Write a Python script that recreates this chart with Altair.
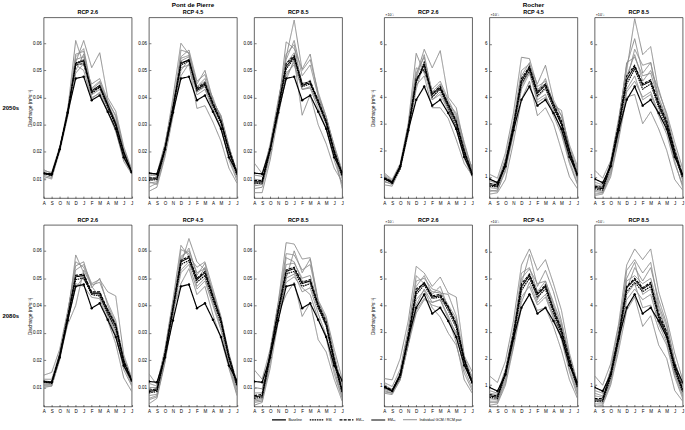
import json
import altair as alt
import pandas as pd

# ---------------- data (discharge values in 10^-3 m3/s) ----------------
MONTHS = ["A", "S", "O", "N", "D", "J", "F", "M", "A", "M", "J", "J"]
RCP_LABELS = ["RCP 2.6", "RCP 4.5", "RCP 8.5"]
PERIODS = ["2050s", "2080s"]
RIVERS = ["Pont de Pierre", "Rocher"]

BASELINE_PDP = [12.2, 11.9, 21.0, 34.5, 47.0, 47.7, 39.0, 40.8, 34.8, 28.5, 18.0, 12.5]
BASELINE_ROC = [0.92, 0.78, 1.4, 2.75, 3.9, 4.4, 3.68, 3.9, 3.4, 2.8, 1.75, 1.1]

# Pont de Pierre, 2050s
PDP_2050_26_EMS = [12.0, 11.3, 21.0, 34.0, 52.8, 53.8, 41.5, 43.8, 36.5, 29.5, 19.5, 12.2]
PDP_2050_26_EM10 = [12.1, 11.4, 21.2, 35.0, 52.0, 52.5, 42.0, 44.0, 37.0, 30.0, 19.8, 12.4]
PDP_2050_26_EMALL = [12.0, 11.5, 21.0, 34.5, 52.5, 53.5, 42.5, 44.5, 37.5, 30.5, 20.0, 12.5]
PDP_2050_26_GCM = [
    [13.5, 12.0, 21.0, 35.5, 61.0, 52.0, 45.0, 47.0, 39.0, 33.0, 20.5, 13.0],
    [11.0, 10.0, 21.5, 36.0, 53.0, 61.0, 51.0, 56.5, 40.0, 35.0, 22.0, 13.5],
    [10.0, 11.5, 20.5, 33.5, 55.0, 58.0, 43.0, 45.5, 38.0, 31.5, 20.5, 12.5],
    [12.5, 11.0, 21.0, 34.0, 50.0, 56.0, 41.0, 43.0, 36.0, 30.0, 18.5, 12.0],
    [13.0, 12.5, 22.0, 35.0, 54.0, 55.0, 43.5, 46.0, 38.5, 33.5, 21.0, 13.0],
    [11.5, 10.5, 20.0, 33.0, 49.0, 52.5, 40.0, 41.5, 35.0, 27.5, 17.5, 12.0],
    [12.0, 12.0, 21.5, 34.5, 56.0, 57.0, 42.0, 44.0, 37.0, 31.0, 19.0, 12.5],
    [12.5, 11.5, 21.0, 35.0, 52.0, 50.0, 39.5, 42.0, 34.5, 28.0, 16.5, 11.8],
]
PDP_2050_45_EMS = [9.5, 9.8, 20.5, 35.5, 52.0, 53.5, 42.5, 44.5, 37.0, 30.5, 20.0, 11.5]
PDP_2050_45_EM10 = [10.5, 10.3, 21.5, 36.5, 53.0, 53.5, 43.5, 45.5, 38.0, 31.5, 21.0, 12.5]
PDP_2050_45_EMALL = [10.0, 10.0, 21.0, 36.0, 52.5, 54.0, 43.0, 45.0, 37.5, 31.0, 20.5, 12.0]
PDP_2050_45_GCM = [
    [12.5, 11.5, 22.0, 40.0, 60.0, 56.0, 44.0, 47.0, 38.0, 32.0, 21.0, 13.0],
    [9.0, 8.0, 19.0, 34.0, 57.5, 56.5, 45.0, 50.0, 39.0, 33.0, 22.0, 12.5],
    [5.5, 7.0, 18.0, 33.0, 50.0, 54.0, 42.0, 44.0, 36.0, 29.0, 18.0, 10.5],
    [11.0, 12.0, 23.0, 37.0, 53.5, 55.0, 42.5, 45.5, 38.5, 33.5, 22.0, 12.0],
    [8.5, 9.0, 20.0, 36.0, 48.0, 52.5, 36.0, 37.0, 31.0, 24.0, 14.0, 8.5],
    [10.5, 10.5, 21.0, 35.0, 54.5, 55.5, 44.0, 46.0, 40.0, 31.5, 19.5, 11.5],
    [7.0, 8.5, 20.5, 36.5, 51.0, 52.0, 41.0, 43.0, 35.5, 29.0, 17.0, 9.5],
    [12.0, 11.0, 22.5, 38.0, 55.0, 57.5, 46.0, 48.5, 39.0, 32.5, 21.5, 12.5],
]
PDP_2050_85_EMS = [8.5, 8.5, 20.5, 35.0, 50.5, 54.5, 44.0, 45.0, 38.0, 30.5, 19.5, 11.0]
PDP_2050_85_EM10 = [9.5, 9.5, 21.5, 36.5, 52.5, 55.5, 45.0, 46.0, 39.0, 31.5, 20.5, 12.0]
PDP_2050_85_EMALL = [9.0, 9.0, 21.0, 36.0, 51.5, 55.0, 44.5, 45.5, 38.5, 31.0, 20.0, 11.5]
PDP_2050_85_GCM = [
    [16.0, 12.0, 22.0, 38.0, 55.0, 68.5, 50.0, 54.0, 42.0, 33.0, 22.0, 12.5],
    [9.0, 8.0, 20.0, 36.0, 60.5, 58.0, 50.5, 56.0, 41.0, 33.0, 21.0, 11.0],
    [5.0, 5.0, 17.0, 33.0, 48.0, 53.0, 43.0, 44.0, 37.5, 30.0, 20.0, 6.5],
    [7.5, 8.0, 21.0, 37.0, 56.0, 59.5, 44.0, 46.5, 38.0, 31.0, 19.0, 10.0],
    [10.0, 9.5, 22.0, 35.0, 46.5, 54.0, 33.5, 41.0, 30.0, 23.0, 14.0, 9.0],
    [8.0, 9.0, 21.0, 37.5, 52.5, 56.5, 45.5, 45.0, 39.5, 32.0, 21.0, 12.0],
    [6.5, 7.0, 19.0, 34.0, 49.0, 52.0, 43.0, 43.5, 36.0, 28.5, 17.0, 8.0],
    [11.5, 11.0, 23.0, 39.0, 54.0, 61.0, 48.0, 52.0, 40.5, 32.5, 22.5, 13.0],
]
# Rocher, 2050s
ROC_2050_26_EMS = [0.93, 0.78, 1.3, 2.7, 4.55, 5.3, 4.0, 4.3, 3.6, 2.95, 1.85, 1.05]
ROC_2050_26_EM10 = [0.97, 0.82, 1.4, 2.85, 4.7, 5.05, 4.15, 4.4, 3.75, 3.1, 2.0, 1.12]
ROC_2050_26_EMALL = [0.95, 0.8, 1.35, 2.8, 4.6, 5.2, 4.1, 4.35, 3.7, 3.05, 1.95, 1.1]
ROC_2050_26_GCM = [
    [1.15, 0.9, 1.5, 3.0, 5.65, 4.9, 4.3, 4.6, 3.9, 3.3, 2.1, 1.2],
    [0.95, 0.75, 1.45, 2.9, 4.8, 5.8, 5.1, 5.75, 4.0, 3.6, 2.2, 1.3],
    [0.7, 0.65, 1.3, 2.6, 4.3, 5.35, 3.9, 4.2, 3.6, 2.8, 1.7, 1.0],
    [1.0, 0.85, 1.4, 2.8, 4.9, 5.5, 4.2, 4.5, 3.8, 3.2, 2.0, 1.15],
    [0.85, 0.7, 1.3, 2.7, 4.45, 4.8, 3.6, 3.6, 3.2, 2.4, 1.5, 1.05],
    [1.05, 0.8, 1.35, 2.75, 4.7, 5.6, 4.1, 4.45, 3.7, 3.1, 1.9, 1.1],
    [0.8, 0.75, 1.4, 2.95, 5.1, 5.0, 3.9, 4.1, 3.5, 2.9, 1.8, 1.4],
    [1.1, 0.85, 1.45, 2.85, 4.6, 5.25, 4.0, 4.3, 3.75, 3.4, 2.3, 1.25],
]
ROC_2050_45_EMS = [0.65, 0.62, 1.45, 2.85, 4.5, 5.0, 4.05, 4.35, 3.6, 2.95, 1.9, 1.0]
ROC_2050_45_EM10 = [0.75, 0.7, 1.55, 2.95, 4.7, 5.15, 4.2, 4.5, 3.75, 3.1, 2.0, 1.1]
ROC_2050_45_EMALL = [0.7, 0.65, 1.5, 2.9, 4.6, 5.1, 4.15, 4.45, 3.7, 3.0, 1.95, 1.05]
ROC_2050_45_GCM = [
    [1.1, 0.95, 1.9, 3.4, 5.5, 5.45, 4.4, 4.6, 3.8, 3.3, 2.1, 1.3],
    [0.35, 0.4, 0.9, 2.3, 3.9, 4.6, 3.3, 3.6, 3.0, 2.0, 1.0, 0.55],
    [0.6, 0.55, 1.4, 2.8, 4.55, 5.2, 4.5, 5.2, 3.9, 3.3, 2.2, 1.4],
    [0.85, 0.75, 1.6, 3.0, 4.8, 5.3, 4.0, 4.3, 3.6, 3.0, 1.8, 0.9],
    [0.5, 0.45, 1.3, 2.7, 4.3, 4.9, 3.8, 4.0, 3.5, 2.7, 1.6, 0.75],
    [0.75, 0.7, 1.5, 2.95, 4.65, 5.1, 4.2, 4.7, 3.7, 3.5, 2.0, 1.2],
    [0.45, 0.5, 1.2, 2.6, 4.4, 5.0, 3.9, 4.1, 3.3, 2.6, 1.5, 0.7],
    [0.9, 0.8, 1.7, 3.1, 5.0, 5.25, 4.3, 4.5, 3.8, 3.1, 2.0, 1.0],
]
ROC_2050_85_EMS = [0.55, 0.5, 1.4, 2.8, 4.5, 5.05, 4.3, 4.5, 3.6, 2.9, 1.8, 0.95]
ROC_2050_85_EM10 = [0.65, 0.6, 1.5, 3.0, 4.8, 5.2, 4.5, 4.65, 3.8, 3.1, 2.0, 1.05]
ROC_2050_85_EMALL = [0.6, 0.55, 1.45, 2.9, 4.65, 5.15, 4.45, 4.6, 3.7, 3.0, 1.9, 1.0]
ROC_2050_85_GCM = [
    [1.25, 0.95, 1.6, 3.2, 5.0, 6.95, 5.6, 5.9, 4.2, 3.4, 2.3, 1.3],
    [0.3, 0.35, 1.0, 2.4, 4.0, 4.1, 3.0, 3.45, 2.8, 2.0, 0.9, 0.5],
    [0.5, 0.45, 1.3, 2.8, 4.6, 5.8, 5.2, 5.3, 4.0, 3.2, 2.1, 1.1],
    [0.8, 0.7, 1.5, 3.0, 5.3, 5.5, 4.8, 4.9, 3.9, 3.1, 1.9, 0.9],
    [0.45, 0.4, 1.2, 2.6, 4.3, 4.8, 3.9, 4.1, 3.3, 2.6, 1.5, 0.7],
    [0.65, 0.6, 1.45, 2.95, 4.8, 5.6, 4.6, 5.0, 4.3, 3.3, 2.0, 1.0],
    [0.35, 0.4, 1.1, 2.5, 4.2, 4.6, 4.0, 4.2, 3.4, 2.8, 1.6, 0.6],
    [0.7, 0.65, 1.55, 3.1, 5.2, 6.2, 4.9, 5.3, 3.8, 3.0, 1.9, 0.85],
]
# Pont de Pierre, 2080s
PDP_2080_26_EMS = [12.0, 11.5, 21.0, 35.0, 49.5, 50.0, 44.0, 43.5, 37.0, 31.5, 19.0, 12.2]
PDP_2080_26_EM10 = [12.2, 12.0, 22.0, 36.0, 51.0, 51.5, 45.0, 45.0, 38.5, 33.0, 20.0, 12.8]
PDP_2080_26_EMALL = [12.0, 11.8, 21.5, 35.5, 50.5, 51.0, 44.5, 44.5, 38.0, 32.5, 19.5, 12.5]
PDP_2080_26_GCM = [
    [14.5, 15.5, 24.0, 38.0, 53.0, 55.0, 48.0, 49.5, 45.0, 43.5, 22.0, 13.5],
    [10.0, 10.5, 20.5, 35.0, 58.5, 52.0, 44.0, 45.0, 37.0, 30.0, 17.5, 12.0],
    [11.0, 11.0, 21.0, 33.0, 40.0, 53.0, 47.0, 43.0, 39.0, 33.0, 20.5, 13.0],
    [12.5, 12.0, 22.5, 37.0, 54.5, 56.0, 46.5, 50.0, 40.0, 33.5, 21.0, 12.5],
    [10.5, 10.5, 20.0, 34.0, 48.0, 47.0, 43.0, 42.5, 34.5, 26.0, 13.5, 8.5],
    [11.5, 11.5, 21.5, 36.0, 51.5, 49.5, 45.0, 44.0, 37.5, 31.0, 18.0, 11.0],
    [13.0, 13.0, 22.5, 37.5, 56.0, 54.0, 47.5, 48.5, 41.0, 34.5, 20.0, 12.5],
    [10.8, 11.0, 20.5, 34.5, 46.5, 50.5, 44.5, 44.0, 36.0, 29.0, 16.5, 10.5],
]
PDP_2080_45_EMS = [8.0, 8.5, 21.5, 38.0, 55.0, 56.5, 48.5, 51.0, 42.0, 33.5, 20.5, 10.5]
PDP_2080_45_EM10 = [9.0, 9.5, 22.5, 39.5, 56.5, 58.0, 50.0, 52.5, 43.5, 35.0, 21.5, 11.5]
PDP_2080_45_EMALL = [8.5, 9.0, 22.0, 39.0, 56.0, 57.5, 49.5, 52.0, 43.0, 34.5, 21.0, 11.0]
PDP_2080_45_GCM = [
    [15.0, 11.0, 24.0, 42.0, 62.0, 58.0, 54.0, 56.0, 46.0, 36.0, 22.0, 12.0],
    [4.0, 6.0, 19.0, 36.0, 55.0, 64.5, 56.0, 53.0, 44.0, 35.0, 22.5, 11.5],
    [7.0, 7.5, 20.0, 37.0, 60.5, 59.0, 47.0, 50.0, 41.0, 32.0, 19.0, 9.0],
    [10.0, 10.0, 23.0, 40.0, 53.0, 56.0, 49.0, 54.0, 44.5, 35.5, 21.5, 11.0],
    [6.0, 7.0, 20.5, 38.0, 48.0, 53.5, 44.0, 47.0, 36.5, 28.0, 17.0, 7.0],
    [9.0, 9.5, 22.0, 39.0, 57.0, 61.0, 51.0, 55.5, 43.0, 34.0, 20.0, 10.0],
    [5.5, 6.5, 19.5, 37.5, 52.0, 55.0, 46.0, 49.0, 40.0, 31.0, 18.0, 8.0],
    [11.5, 10.5, 23.5, 41.0, 58.0, 60.0, 52.0, 53.5, 45.0, 35.0, 21.0, 12.0],
]
PDP_2080_85_EMS = [6.0, 6.5, 21.0, 37.0, 51.5, 52.5, 47.0, 48.0, 39.0, 32.5, 19.0, 8.0]
PDP_2080_85_EM10 = [7.0, 7.5, 22.5, 38.5, 53.0, 54.0, 48.5, 49.5, 40.5, 34.0, 20.5, 9.0]
PDP_2080_85_EMALL = [6.5, 7.0, 22.0, 38.0, 52.5, 53.5, 48.0, 49.0, 40.0, 33.0, 20.0, 8.5]
PDP_2080_85_GCM = [
    [16.5, 13.0, 24.0, 41.0, 63.0, 62.5, 57.0, 57.5, 42.0, 36.0, 24.0, 13.0],
    [3.5, 4.5, 17.0, 34.0, 50.0, 60.0, 52.0, 57.0, 41.0, 35.0, 22.0, 10.0],
    [5.0, 5.5, 20.0, 37.0, 44.0, 48.5, 36.0, 41.0, 27.5, 23.0, 13.0, 5.0],
    [8.0, 8.0, 23.0, 39.5, 55.0, 55.5, 50.0, 51.0, 40.5, 33.5, 20.0, 8.5],
    [4.5, 5.0, 19.0, 36.0, 50.0, 51.5, 45.0, 46.5, 37.0, 29.0, 16.5, 6.5],
    [7.0, 6.5, 21.5, 38.0, 57.5, 56.0, 49.0, 48.5, 39.5, 32.5, 18.5, 7.5],
    [5.5, 6.0, 20.5, 37.5, 48.5, 50.5, 46.5, 44.0, 35.0, 28.0, 15.0, 6.0],
    [10.0, 9.5, 23.5, 40.5, 59.0, 58.5, 53.0, 55.0, 41.5, 34.5, 21.5, 10.5],
]
# Rocher, 2080s
ROC_2080_26_EMS = [0.93, 0.78, 1.3, 2.7, 4.4, 4.75, 4.25, 4.3, 3.8, 3.15, 1.85, 1.05]
ROC_2080_26_EM10 = [0.97, 0.82, 1.4, 2.85, 4.6, 4.8, 4.35, 4.4, 3.95, 3.3, 2.0, 1.12]
ROC_2080_26_EMALL = [0.95, 0.8, 1.35, 2.75, 4.5, 4.85, 4.3, 4.35, 3.9, 3.25, 1.95, 1.1]
ROC_2080_26_GCM = [
    [1.25, 1.2, 2.0, 3.4, 5.45, 5.2, 4.7, 5.05, 4.45, 4.3, 2.1, 1.5],
    [0.7, 0.65, 1.2, 2.5, 4.0, 4.6, 4.1, 4.2, 3.5, 2.6, 1.2, 0.7],
    [0.9, 0.8, 1.5, 3.0, 5.1, 4.8, 4.5, 4.45, 4.4, 3.6, 2.05, 1.3],
    [1.0, 0.85, 1.35, 2.6, 3.8, 4.25, 4.0, 3.9, 3.4, 3.0, 1.9, 1.05],
    [0.8, 0.7, 1.3, 2.7, 4.7, 5.1, 4.4, 4.7, 3.9, 3.4, 2.0, 1.2],
    [0.85, 0.75, 1.25, 2.55, 4.2, 4.55, 3.9, 3.55, 2.95, 2.5, 1.45, 0.8],
    [1.1, 0.95, 1.6, 3.1, 4.9, 5.0, 4.6, 4.5, 4.0, 3.5, 1.8, 1.2],
    [0.75, 0.7, 1.2, 2.5, 3.7, 4.2, 4.1, 4.2, 3.6, 2.9, 1.6, 0.9],
]
ROC_2080_45_EMS = [0.55, 0.5, 1.4, 2.75, 4.55, 5.0, 4.3, 4.6, 3.7, 2.9, 1.8, 0.9]
ROC_2080_45_EM10 = [0.65, 0.6, 1.5, 2.95, 4.8, 5.15, 4.45, 4.75, 3.85, 3.1, 2.0, 1.0]
ROC_2080_45_EMALL = [0.6, 0.55, 1.45, 2.85, 4.7, 5.1, 4.4, 4.7, 3.8, 3.0, 1.9, 0.95]
ROC_2080_45_GCM = [
    [1.35, 1.1, 1.9, 3.4, 5.5, 6.1, 5.3, 5.7, 4.8, 3.8, 2.2, 1.1],
    [0.25, 0.3, 1.0, 2.4, 3.9, 4.4, 3.8, 3.9, 3.2, 2.3, 1.2, 0.5],
    [0.5, 0.45, 1.3, 2.7, 5.2, 5.4, 4.5, 4.9, 4.0, 3.1, 1.9, 0.9],
    [0.8, 0.7, 1.6, 3.0, 4.8, 5.9, 4.7, 5.3, 4.5, 3.4, 2.0, 1.0],
    [0.4, 0.4, 1.2, 2.6, 4.3, 4.7, 4.0, 4.3, 3.5, 2.7, 1.5, 0.6],
    [0.65, 0.6, 1.5, 2.9, 4.6, 5.2, 4.2, 4.8, 3.9, 3.2, 1.8, 0.8],
    [0.35, 0.35, 1.1, 2.5, 4.1, 4.85, 4.1, 4.4, 3.6, 2.8, 1.6, 0.7],
    [0.7, 0.65, 1.55, 3.1, 5.0, 5.35, 4.8, 4.9, 4.1, 3.3, 2.1, 1.05],
]
ROC_2080_85_EMS = [0.4, 0.4, 1.3, 2.7, 4.5, 4.85, 4.5, 4.7, 3.5, 2.8, 1.55, 0.75]
ROC_2080_85_EM10 = [0.5, 0.5, 1.45, 2.9, 4.7, 5.0, 4.65, 4.85, 3.7, 3.0, 1.7, 0.85]
ROC_2080_85_EMALL = [0.45, 0.45, 1.4, 2.8, 4.65, 4.95, 4.6, 4.8, 3.6, 2.9, 1.65, 0.8]
ROC_2080_85_GCM = [
    [1.35, 1.0, 1.8, 3.3, 5.5, 6.1, 5.7, 6.1, 4.5, 3.5, 2.2, 1.2],
    [0.2, 0.25, 1.0, 2.3, 3.8, 4.3, 3.2, 3.6, 2.5, 2.0, 0.8, 0.4],
    [0.5, 0.4, 1.3, 2.8, 5.3, 5.7, 5.2, 5.6, 4.0, 3.2, 1.9, 0.9],
    [0.8, 0.7, 1.5, 3.0, 4.9, 5.1, 4.8, 5.0, 3.9, 3.0, 1.8, 0.85],
    [0.3, 0.3, 1.1, 2.5, 4.2, 4.6, 4.2, 4.4, 3.3, 2.6, 1.4, 0.6],
    [0.6, 0.55, 1.45, 2.9, 4.6, 5.4, 4.9, 5.4, 4.2, 3.3, 1.9, 1.0],
    [0.4, 0.35, 1.2, 2.6, 4.4, 4.8, 3.9, 4.0, 3.1, 2.5, 1.3, 0.5],
    [0.7, 0.6, 1.6, 3.2, 5.0, 5.6, 4.4, 4.6, 3.5, 2.8, 1.5, 0.7],
]

PANELS = [
    [
        (PDP_2050_26_EMS, PDP_2050_26_EM10, PDP_2050_26_EMALL, PDP_2050_26_GCM),
        (PDP_2050_45_EMS, PDP_2050_45_EM10, PDP_2050_45_EMALL, PDP_2050_45_GCM),
        (PDP_2050_85_EMS, PDP_2050_85_EM10, PDP_2050_85_EMALL, PDP_2050_85_GCM),
        (ROC_2050_26_EMS, ROC_2050_26_EM10, ROC_2050_26_EMALL, ROC_2050_26_GCM),
        (ROC_2050_45_EMS, ROC_2050_45_EM10, ROC_2050_45_EMALL, ROC_2050_45_GCM),
        (ROC_2050_85_EMS, ROC_2050_85_EM10, ROC_2050_85_EMALL, ROC_2050_85_GCM),
    ],
    [
        (PDP_2080_26_EMS, PDP_2080_26_EM10, PDP_2080_26_EMALL, PDP_2080_26_GCM),
        (PDP_2080_45_EMS, PDP_2080_45_EM10, PDP_2080_45_EMALL, PDP_2080_45_GCM),
        (PDP_2080_85_EMS, PDP_2080_85_EM10, PDP_2080_85_EMALL, PDP_2080_85_GCM),
        (ROC_2080_26_EMS, ROC_2080_26_EM10, ROC_2080_26_EMALL, ROC_2080_26_GCM),
        (ROC_2080_45_EMS, ROC_2080_45_EM10, ROC_2080_45_EMALL, ROC_2080_45_GCM),
        (ROC_2080_85_EMS, ROC_2080_85_EM10, ROC_2080_85_EMALL, ROC_2080_85_GCM),
    ],
]

K_BASE = "Baseline"
K_S = "EM\u209b"
K_10 = "EM\u2081\u2080"
K_ALL = "EM\u2090\u2097\u2097"
K_GCM = "Individual GCM / RCM pair"
KINDS = [K_BASE, K_S, K_10, K_ALL, K_GCM]

FONT = "Liberation Sans"
W, GAP_W = 88.7, 8
HEIGHTS = [182, 183]


def build_df(panel, baseline, factor):
    ems, em10, emall, gcms = panel
    rows = []
    for j, member in enumerate(gcms):
        for i, v in enumerate(member):
            rows.append({"i": i, "y": v * factor, "kind": K_GCM, "series": f"g{j}"})
    for kind, vals in ((K_S, ems), (K_10, em10), (K_ALL, emall), (K_BASE, baseline)):
        for i, v in enumerate(vals):
            rows.append({"i": i, "y": v * factor, "kind": kind, "series": kind})
    return pd.DataFrame(rows)


LEGEND = alt.Legend(
    title=None, orient="none", direction="horizontal", columns=5,
    legendX=229, legendY=397, symbolType="stroke", symbolSize=196,
    labelFontSize=3.6, labelFont=FONT, labelColor="black", labelOffset=1.5,
    columnPadding=4, padding=0,
)

months_expr = json.dumps(MONTHS) + "[datum.value]"


def panel_chart(r, c):
    river = 0 if c < 3 else 1
    k = c % 3
    panel = PANELS[r][c]
    h = HEIGHTS[r]
    if river == 0:
        df = build_df(panel, BASELINE_PDP, 0.001)
        ydom = [0.003, 0.0695]
        yvals = [0.01, 0.02, 0.03, 0.04, 0.05, 0.06]
        yfmt = ".2f"
        tpad = 0.5
    else:
        df = build_df(panel, BASELINE_ROC, 1.0)
        ydom = [0.2, 7.0]
        yvals = [1, 2, 3, 4, 5, 6]
        yfmt = "d"
        tpad = 3.5
    ytitle = "Discharge (m\u00b3s\u207b\u00b9)" if k == 0 else None
    yaxis = alt.Axis(values=yvals, format=yfmt, title=ytitle, offset=-2, tickSize=2,
                     labelPadding=2.3, titlePadding=tpad, labelFontSize=4.6,
                     titleFontSize=4.8, grid=False, domain=False)
    xaxis = alt.Axis(values=list(range(12)), labelExpr=months_expr, title=None, offset=-2,
                     tickSize=2, labelPadding=2.2, labelFontSize=4.6, labelFlush=False,
                     grid=False, domain=False)
    x = alt.X("i:Q", scale=alt.Scale(domain=[0, 11], nice=False, zero=False), axis=xaxis)
    y = alt.Y("y:Q", scale=alt.Scale(domain=ydom, nice=False, zero=False), axis=yaxis)
    color = alt.Color("kind:N", scale=alt.Scale(domain=KINDS, range=["black", "black", "black", "black", "#8c8c8c"]), legend=LEGEND)
    dash = alt.StrokeDash("kind:N", scale=alt.Scale(domain=KINDS, range=[[1, 0], [1.6, 0.8], [3, 1.2], [1, 0], [1, 0]]), legend=LEGEND)
    sw = alt.StrokeWidth("kind:N", scale=alt.Scale(domain=KINDS, range=[1.2, 1.0, 1.0, 1.7, 0.55]), legend=LEGEND)

    base = alt.Chart(df)
    gcm = base.transform_filter(alt.datum.kind == K_GCM).mark_line(clip=True).encode(
        x=x, y=y, color=color, strokeDash=dash, strokeWidth=sw, detail="series:N")
    ems = base.transform_filter((alt.datum.kind != K_GCM) & (alt.datum.kind != K_BASE)).mark_line(clip=True).encode(
        x=x, y=y, color=color, strokeDash=dash, strokeWidth=sw, detail="series:N")
    bl = base.transform_filter(alt.datum.kind == K_BASE).mark_line(clip=True).encode(
        x=x, y=y, color=color, strokeDash=dash, strokeWidth=sw, detail="series:N")
    blp = base.transform_filter(alt.datum.kind == K_BASE).mark_point(
        filled=True, size=6, color="black", opacity=1, clip=True).encode(x=x, y=y)
    main = alt.layer(gcm, ems, bl, blp)

    extra_titles = []
    if c == 0:
        extra_titles.append(alt.Axis(title=PERIODS[r], orient="left", labels=False, ticks=False,
                                     domain=False, grid=False, titleAngle=0, titleX=-42, titleY=h / 2,
                                     titleAlign="left", titleBaseline="middle", titleFontSize=6,
                                     titleFontWeight="bold"))
    if river == 1:
        extra_titles.append(alt.Axis(title="\u00d710\u207b\u00b3", orient="left", labels=False, ticks=False,
                                     domain=False, grid=False, titleAngle=0, titleX=0.5, titleY=-1,
                                     titleAlign="left", titleBaseline="bottom", titleFontSize=3.8,
                                     titleFontWeight="normal"))
    chart = main
    if extra_titles:
        dummy_df = pd.DataFrame({"d": [0]})
        layers = [main]
        for ax in extra_titles:
            layers.append(alt.Chart(dummy_df).mark_point(opacity=0).encode(
                y=alt.Y("d:Q", axis=ax)))
        chart = alt.layer(*layers).resolve_scale(y="independent")

    # Rocher panels carry the "x10^-3" label above the frame, which lifts the title;
    # compensate so all panel titles sit at the same height
    toff = 1.5 if river == 0 else -3.5
    if r == 0 and k == 1:
        title = alt.TitleParams(text=RIVERS[river], subtitle=RCP_LABELS[k], fontSize=6.3,
                                fontWeight="bold", subtitleFontSize=5.5, subtitleFontWeight="bold",
                                subtitleColor="black", subtitlePadding=2, offset=toff, font=FONT,
                                subtitleFont=FONT, color="black", anchor="middle", frame="group")
    else:
        title = alt.TitleParams(text=RCP_LABELS[k], fontSize=5.5, fontWeight="bold", offset=toff,
                                font=FONT, color="black", anchor="middle", frame="group")
    return chart.properties(width=W, height=h, title=title)


def spacer(r):
    return alt.Chart(pd.DataFrame({"i": [0]})).mark_point(opacity=0).encode(
        x=alt.X("i:Q", axis=None), y=alt.Y("i:Q", axis=None)
    ).properties(width=GAP_W, height=HEIGHTS[r], view=alt.ViewBackground(stroke="transparent"))


cells = []
for r in range(2):
    for c in range(6):
        if c == 3:
            cells.append(spacer(r))
        cells.append(panel_chart(r, c))

chart = alt.ConcatChart(
    concat=cells, columns=7, spacing=alt.RowColnumber(row=27, column=17),
    bounds="flush", align="each",
    padding={"left": 1, "top": 0, "right": 0, "bottom": 0},
).configure(font=FONT).configure_view(stroke="#222222", strokeWidth=0.7).configure_axis(
    labelColor="black", tickColor="#222222", titleColor="black", labelFont=FONT, titleFont=FONT,
    titleFontWeight="normal", tickWidth=0.6,
)

chart.save("out.html", embed_options={"renderer": "svg", "actions": False})
